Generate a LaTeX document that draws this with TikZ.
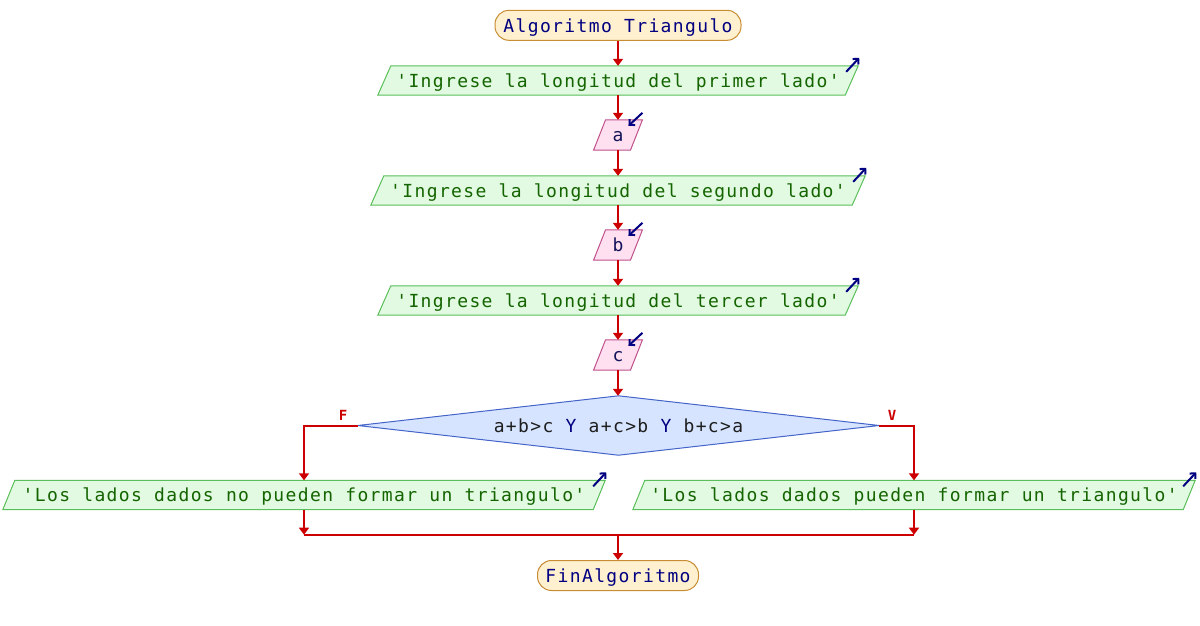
\documentclass[tikz,border=0pt]{standalone}
\usepackage{fontspec}
\usetikzlibrary{arrows.meta,calc,backgrounds}
\newfontfamily\monof[LetterSpace=7.6,Ligatures=TeXOff]{DejaVu Sans Mono}
\definecolor{flowred}{RGB}{204,0,0}
\definecolor{termfill}{RGB}{255,240,208}
\definecolor{termdraw}{RGB}{200,140,50}
\definecolor{termtext}{RGB}{0,0,128}
\definecolor{outfill}{RGB}{226,250,226}
\definecolor{outdraw}{RGB}{90,190,90}
\definecolor{outtext}{RGB}{20,100,0}
\definecolor{infill}{RGB}{255,224,240}
\definecolor{indraw}{RGB}{192,80,138}
\definecolor{intext}{RGB}{20,20,90}
\definecolor{decfill}{RGB}{214,228,255}
\definecolor{decdraw}{RGB}{68,100,200}
\definecolor{dectext}{RGB}{30,30,30}
\definecolor{iconc}{RGB}{0,0,128}
\tikzset{
 txt/.style={inner sep=0pt, font=\monof\fontsize{18}{20}\selectfont, anchor=center, text height=16pt, text depth=2.4pt},
 term/.style={txt, text=termtext, draw=termdraw, fill=termfill, rounded corners=14pt, line width=1pt, minimum height=30pt},
 outbox/.style={txt, text=outtext, minimum height=29pt},
 inbox/.style={txt, text=intext, minimum height=30pt, minimum width=36.5pt},
 decbox/.style={txt, text=dectext, minimum height=59pt, minimum width=521pt},
 outshape/.style={draw=outdraw, fill=outfill, line width=1pt},
 inshape/.style={draw=indraw, fill=infill, line width=1pt},
 decshape/.style={draw=decdraw, fill=decfill, line width=1pt},
 flow/.style={draw=flowred, line width=2pt, -{Triangle[width=10pt,length=7pt]}},
 flowline/.style={draw=flowred, line width=2pt},
 icon/.style={draw=iconc, line width=2pt, -{Straight Barb[length=4pt,width=8pt]}},
 lbl/.style={font=\monof\bfseries\fontsize{14}{16}\selectfont, text=flowred, inner sep=0pt}
}
\newcommand\paral[3]{\draw[#1] ($(#2.south west)+(-#3,0)$) -- ($(#2.north west)+(#3,0)$) -- ($(#2.north east)+(#3,0)$) -- ($(#2.south east)+(-#3,0)$) -- cycle;}
\newcommand\outicon[2]{\draw[icon] ($(#1.north east)+(#2-12,6)$) -- ($(#1.north east)+(#2+1,-8)$);}
\newcommand\inicon[2]{\draw[icon] ($(#1.north east)+(#2,-7)$) -- ($(#1.north east)+(#2-14,6)$);}
\begin{document}
\begin{tikzpicture}[x=1pt,y=-1pt]
\useasboundingbox (0,0) rectangle (1200,625);
% nodes
\node[term, minimum width=246pt] (start) at (618,25.3) {Algoritmo Triangulo};
\node[outbox, minimum width=467pt] (o1) at (618,80.5) {'Ingrese la longitud del primer lado'};
\node[inbox] (a) at (618,135) {a};
\node[outbox, minimum width=481pt] (o2) at (618,190.5) {'Ingrese la longitud del segundo lado'};
\node[inbox] (b) at (618,245) {b};
\node[outbox, minimum width=467pt] (o3) at (618,300.5) {'Ingrese la longitud del tercer lado'};
\node[inbox] (c) at (618,355) {c};
\node[decbox] (d) at (618.5,425.5) {a+b>c \textcolor{termtext}{Y} a+c>b \textcolor{termtext}{Y} b+c>a};
\node[outbox, minimum width=590pt] (left) at (304,495) {'Los lados dados no pueden formar un triangulo'};
\node[outbox, minimum width=550pt] (right) at (914,495) {'Los lados dados pueden formar un triangulo'};
\node[term, minimum width=161pt] (endt) at (618,575.5) {FinAlgoritmo};
\node[lbl] (fl) at (343,415) {F};
\node[lbl] (vl) at (892,415) {V};
% shapes behind
\begin{pgfonlayer}{background}
\paral{outshape}{o1}{6.5}
\paral{outshape}{o2}{6.5}
\paral{outshape}{o3}{6.5}
\paral{inshape}{a}{6}
\paral{inshape}{b}{6}
\paral{inshape}{c}{6}
\paral{outshape}{left}{6}
\paral{outshape}{right}{6}
\draw[decshape] (d.north) -- (d.east) -- (d.south) -- (d.west) -- cycle;
\end{pgfonlayer}
% icons
\outicon{o1}{6.5}
\outicon{o2}{6.5}
\outicon{o3}{6.5}
\outicon{left}{6}
\outicon{right}{6}
\inicon{a}{6}
\inicon{b}{6}
\inicon{c}{6}
% connectors
\draw[flow] (start.south) -- (start.south |- o1.north);
\draw[flow] (o1.south) -- (o1.south |- a.north);
\draw[flow] (a.south) -- (a.south |- o2.north);
\draw[flow] (o2.south) -- (o2.south |- b.north);
\draw[flow] (b.south) -- (b.south |- o3.north);
\draw[flow] (o3.south) -- (o3.south |- c.north);
\draw[flow] (c.south) -- (c.south |- d.north);
\draw[flow] (d.west) -| (left.north);
\draw[flow] (d.east) -| (right.north);
\coordinate (jl) at ($(left.south)+(0,25)$);
\coordinate (jr) at ($(right.south)+(0,25)$);
\coordinate (jm) at (jl -| endt.north);
\draw[flowline] (jl) -- (jr);
\draw[flow] (left.south) -- (jl);
\draw[flow] (right.south) -- (jr);
\draw[flow] (jm) -- (endt.north);
\end{tikzpicture}
\end{document}
